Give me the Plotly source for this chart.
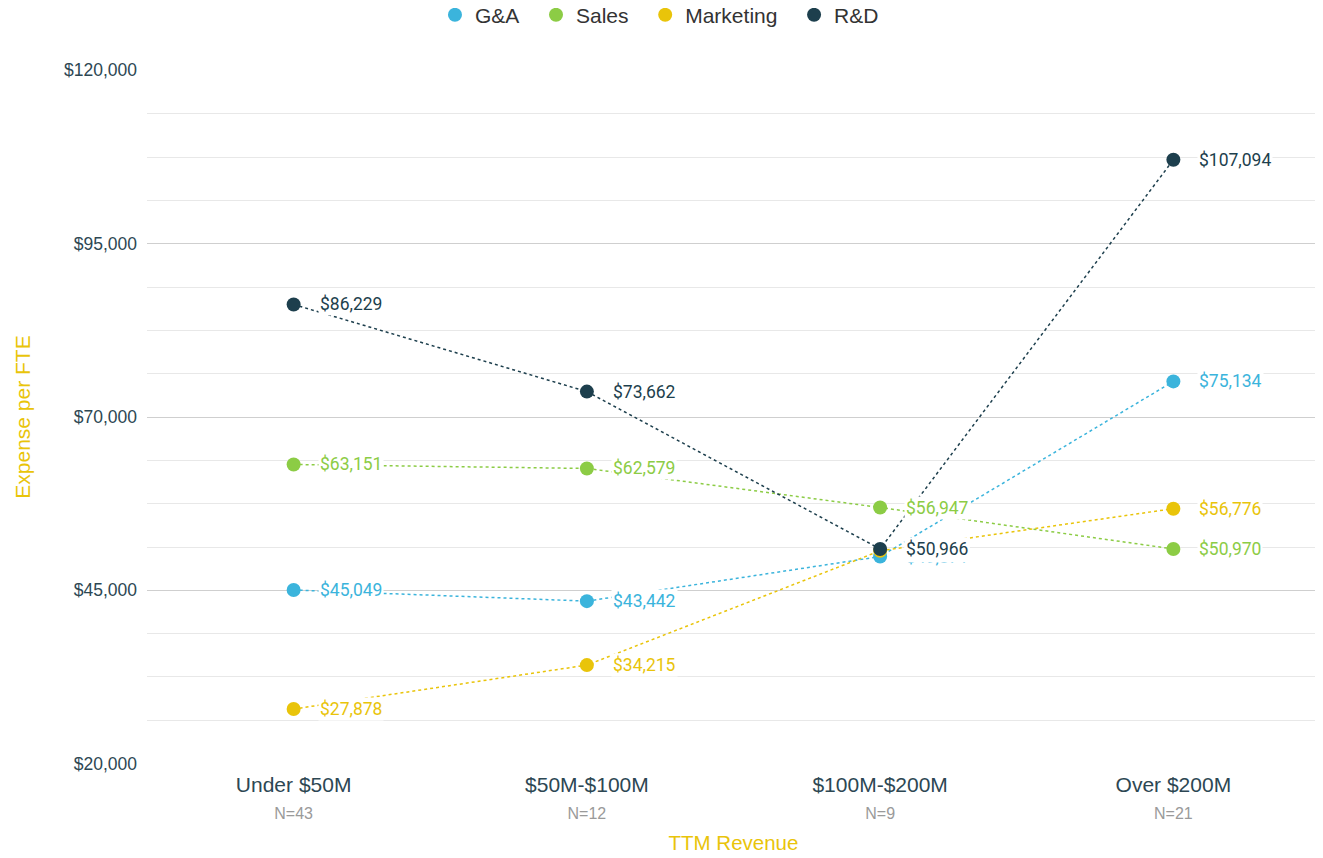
import plotly.graph_objects as go

categories = ["Under $50M", "$50M-$100M", "$100M-$200M", "Over $200M"]
counts = ["N=43", "N=12", "N=9", "N=21"]

series = ["G&A", "Sales", "Marketing", "R&D"]
ga = [45049, 43442, 49871, 75134]
sales = [63151, 62579, 56947, 50970]
marketing = [27878, 34215, 50700, 56776]
rnd = [86229, 73662, 50966, 107094]

colors = ["#3bb4dc", "#8ccc45", "#e9c40a", "#1d3f4d"]
values = [ga, sales, marketing, rnd]

pad = "\u00a0" * 2  # a bit more room between legend entries

fig = go.Figure()
annotations = []
for name, vals, col in zip(series, values, colors):
    # dotted connecting line, kept out of the legend
    fig.add_trace(go.Scatter(
        x=categories, y=vals, name=name, mode="lines", showlegend=False,
        line=dict(color=col, width=1.5, dash="dot"), legendgroup=name,
    ))
    fig.add_trace(go.Scatter(
        x=categories, y=vals, name=name + pad, mode="markers", legendgroup=name,
        marker=dict(color=col, size=14),
    ))
    # data labels with white background, later series drawn on top
    for c, v in zip(categories, vals):
        annotations.append(dict(
            x=c, y=v, text="${:,}".format(v), showarrow=False,
            xanchor="left", yanchor="middle", xshift=24,
            font=dict(family="Roboto", size=17.5, color=col),
            bgcolor="white", borderpad=1,
        ))

ticktext = [f"{c}<br><span style='font-size:16px;color:#9a9a9a'>{n}</span>"
            for c, n in zip(categories, counts)]

fig.update_layout(
    width=1323, height=858,
    plot_bgcolor="white", paper_bgcolor="white",
    margin=dict(l=139, r=11, t=62, b=102, autoexpand=False),
    font=dict(family="Liberation Sans, Arial", color="#2d4753"),
    legend=dict(orientation="h", x=0.442, xanchor="center", y=1.079, yanchor="middle",
                font=dict(size=21, color="#333333"), itemsizing="trace"),
    annotations=annotations,
)
fig.update_xaxes(
    type="category", range=[-0.5, 3.5],
    tickvals=categories, ticktext=ticktext,
    tickfont=dict(size=21, color="#2d4753"), ticklabelstandoff=6,
    showgrid=False, showline=False, zeroline=False,
    title=dict(text="TTM Revenue", font=dict(size=20.5, color="#e9c40a"), standoff=14),
)
fig.update_yaxes(
    range=[19950, 120050], tickvals=[20000, 45000, 70000, 95000, 120000],
    tickformat="$,.0f", tickfont=dict(size=17.5, color="#2d4753"),
    showgrid=True, gridcolor="#cfcfcf", gridwidth=1, zeroline=False,
    ticks="", ticklabelstandoff=9,
    minor=dict(tickvals=[20000 + 6250 * i for i in range(17)], showgrid=True,
               gridcolor="#e8e8e8", gridwidth=1),
    title=dict(text="Expense per FTE", font=dict(size=21, color="#e9c40a"), standoff=27),
)

fig.write_html("out.html")
